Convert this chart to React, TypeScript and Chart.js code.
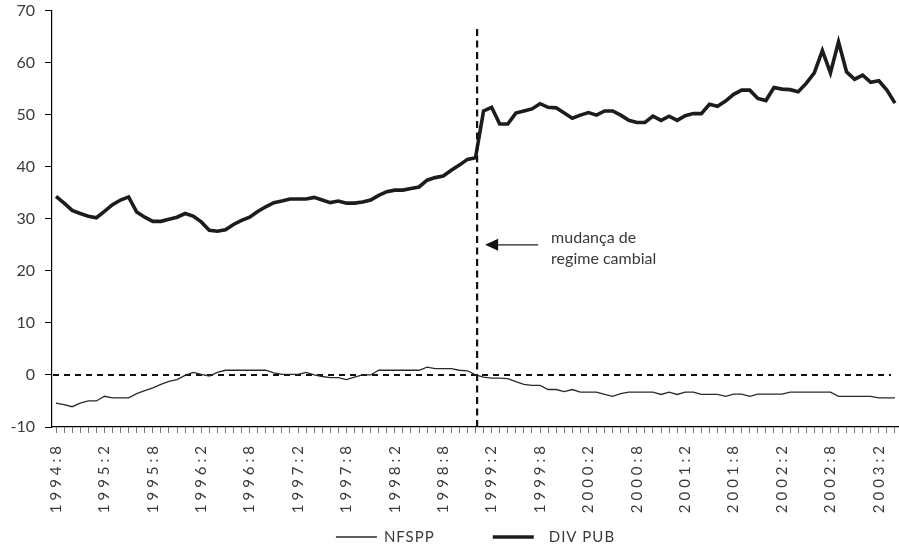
import React, { useEffect, useRef } from 'react';
import { Chart, registerables } from 'chart.js';

Chart.register(...registerables);

// Monthly categories 1994:8 .. 2003:4
const START_YEAR = 1994;
const START_MONTH = 8;
const N_MONTHS = 105;
const CATEGORIES: string[] = [];
for (let k = 0; k < N_MONTHS; k++) {
  const m = START_MONTH - 1 + k;
  CATEGORIES.push(`${START_YEAR + Math.floor(m / 12)}:${(m % 12) + 1}`);
}

// Tick labels shown every 6 months (months 2 and 8)
const SHOWN_MONTHS = ['2', '8'];

const Y_MIN = -10;
const Y_MAX = 70;
const Y_STEP = 10;

const NFSPP = [
  -5.4, -5.7, -6.1, -5.4, -5.0, -5.0, -4.1, -4.4, -4.4, -4.4,
  -3.6, -3.0, -2.5, -1.8, -1.25, -0.9, -0.1, 0.5, 0.1, -0.2,
  0.5, 0.9, 0.9, 0.9, 0.9, 0.9, 0.9, 0.4, 0.1, 0.1,
  0.1, 0.5, 0.0, -0.3, -0.5, -0.5, -0.9, -0.4, 0.0, 0.0,
  0.9, 0.9, 0.9, 0.9, 0.9, 0.9, 1.5, 1.2, 1.2, 1.2,
  0.9, 0.8, 0.0, -0.4, -0.6, -0.6, -0.7, -1.3, -1.8, -2.0,
  -2.0, -2.8, -2.8, -3.2, -2.8, -3.3, -3.3, -3.3, -3.75, -4.1,
  -3.6, -3.3, -3.3, -3.3, -3.3, -3.75, -3.3, -3.75, -3.3, -3.3,
  -3.75, -3.75, -3.75, -4.1, -3.7, -3.7, -4.1, -3.7, -3.7, -3.7,
  -3.7, -3.3, -3.3, -3.3, -3.3, -3.3, -3.3, -4.1, -4.1, -4.1,
  -4.1, -4.1, -4.4, -4.4, -4.4,
];

const DIV_PUB = [
  34.3, 33.0, 31.6, 31.0, 30.5, 30.2, 31.4, 32.7, 33.6, 34.2,
  31.3, 30.3, 29.5, 29.5, 29.9, 30.3, 31.0, 30.5, 29.4, 27.8,
  27.6, 27.9, 28.9, 29.7, 30.3, 31.4, 32.3, 33.1, 33.4, 33.8,
  33.8, 33.8, 34.1, 33.6, 33.1, 33.4, 33.0, 33.0, 33.2, 33.6,
  34.5, 35.2, 35.5, 35.5, 35.8, 36.1, 37.4, 37.9, 38.2, 39.3,
  40.3, 41.4, 41.7, 50.7, 51.4, 48.2, 48.2, 50.3, 50.7, 51.1,
  52.1, 51.4, 51.3, 50.3, 49.3, 49.9, 50.4, 49.9, 50.7, 50.7,
  49.9, 48.9, 48.5, 48.5, 49.7, 48.9, 49.7, 48.9, 49.8, 50.2,
  50.2, 52.0, 51.6, 52.6, 53.9, 54.7, 54.7, 53.1, 52.7, 55.2,
  54.9, 54.8, 54.4, 56.0, 58.0, 62.3, 58.0, 64.0, 58.2, 56.8,
  57.6, 56.2, 56.5, 54.7, 52.2,
];

const SERIES_LABELS = ['NFSPP', 'DIV PUB'];

// Annotation: regime change between 1998:12 and 1999:1
const BREAK_INDEX = 52;
const BREAK_FRAC = 0.2;
const BREAK_TOP_VALUE = 66.8;
const ARROW_VALUE = 25;
const ANNOT_LINES = ['mudança de', 'regime cambial'];

const FONT = 'Lato, "Open Sans", "DejaVu Sans", sans-serif';
const TEXT_COLOR = '#3a3a3a';

const overlayPlugin = {
  id: 'overlay',
  beforeDraw(chart: any) {
    const s: any = chart.scales.x;
    if (s && !s.__patched) {
      const orig = s.drawLabels.bind(s);
      s.drawLabels = (area: any) => {
        const ctx: any = chart.ctx;
        ctx.save();
        ctx.letterSpacing = '4px';
        orig(area);
        ctx.restore();
      };
      s.__patched = true;
    }
  },
  beforeDatasetsDraw(chart: any) {
    const ctx = chart.ctx;
    const area = chart.chartArea;
    const y0 = chart.scales.y.getPixelForValue(0);
    ctx.save();
    ctx.strokeStyle = '#111';
    ctx.lineWidth = 2;
    ctx.setLineDash([6, 5]);
    ctx.beginPath();
    ctx.moveTo(area.left + 1, y0);
    ctx.lineTo(area.right - 8, y0);
    ctx.stroke();
    ctx.restore();
  },
  afterDatasetsDraw(chart: any) {
    const ctx = chart.ctx;
    const area = chart.chartArea;
    const xs = chart.scales.x;
    const ys = chart.scales.y;
    const p0 = xs.getPixelForValue(BREAK_INDEX);
    const p1 = xs.getPixelForValue(BREAK_INDEX + 1);
    const bx = p0 + (p1 - p0) * BREAK_FRAC;
    ctx.save();
    ctx.strokeStyle = '#111';
    ctx.lineWidth = 2.2;
    ctx.setLineDash([7, 4.5]);
    ctx.beginPath();
    ctx.moveTo(bx, area.bottom);
    ctx.lineTo(bx, ys.getPixelForValue(BREAK_TOP_VALUE));
    ctx.stroke();
    ctx.setLineDash([]);

    // arrow
    const ay = ys.getPixelForValue(ARROW_VALUE);
    const tip = bx + 8;
    const tail = bx + 61;
    ctx.lineWidth = 1.3;
    ctx.strokeStyle = '#222';
    ctx.beginPath();
    ctx.moveTo(tail, ay);
    ctx.lineTo(tip + 10, ay);
    ctx.stroke();
    ctx.fillStyle = '#111';
    ctx.beginPath();
    ctx.moveTo(tip, ay);
    ctx.lineTo(tip + 13, ay - 6);
    ctx.lineTo(tip + 13, ay + 6);
    ctx.closePath();
    ctx.fill();

    ctx.fillStyle = TEXT_COLOR;
    ctx.font = `16px ${FONT}`;
    ctx.textAlign = 'left';
    ctx.textBaseline = 'middle';
    ctx.fillText(ANNOT_LINES[0], tail + 13, ay - 7);
    ctx.fillText(ANNOT_LINES[1], tail + 13, ay + 14);
    ctx.restore();
  },
  afterDraw(chart: any) {
    const ctx = chart.ctx;
    const area = chart.chartArea;
    const ds = chart.data.datasets;
    const cy = chart.height - 10;
    ctx.save();
    ctx.font = `15px ${FONT}`;
    (ctx as any).letterSpacing = '1px';
    const lineLen = 41;
    const gaps = [7, 15];
    const between = 58;
    const w0 = ctx.measureText(ds[0].label).width;
    const w1 = ctx.measureText(ds[1].label).width;
    const total = lineLen + gaps[0] + w0 + between + lineLen + gaps[1] + w1;
    let x = (area.left + area.right) / 2 - total / 2;
    ctx.textBaseline = 'middle';
    ctx.textAlign = 'left';
    [0, 1].forEach((i) => {
      ctx.strokeStyle = ds[i].borderColor;
      ctx.lineWidth = ds[i].borderWidth;
      ctx.beginPath();
      ctx.moveTo(x, cy);
      ctx.lineTo(x + lineLen, cy);
      ctx.stroke();
      x += lineLen + gaps[i];
      ctx.fillStyle = TEXT_COLOR;
      ctx.fillText(ds[i].label, x, cy);
      x += (i === 0 ? w0 : w1) + between;
    });
    ctx.restore();
  },
};

export default function App() {
  const ref = useRef<HTMLCanvasElement>(null);
  useEffect(() => {
    document.body.style.margin = '0';
    const canvas = ref.current!;
    const chart = new Chart(canvas, {
      type: 'line',
      data: {
        labels: CATEGORIES,
        datasets: [
          {
            label: SERIES_LABELS[0],
            data: NFSPP,
            borderColor: '#2a2a2a',
            borderWidth: 1.3,
            pointRadius: 0,
            tension: 0,
            fill: false,
          },
          {
            label: SERIES_LABELS[1],
            data: DIV_PUB,
            borderColor: '#1c1c1c',
            borderWidth: 3.6,
            pointRadius: 0,
            tension: 0,
            fill: false,
            borderJoinStyle: 'miter',
          },
        ],
      },
      options: {
        responsive: false,
        animation: false,
        events: [],
        layout: { padding: { top: 0, right: 0, bottom: 0, left: 0 } },
        plugins: {
          legend: { display: false },
          tooltip: { enabled: false },
        },
        scales: {
          x: {
            offset: true,
            grid: {
              display: true,
              drawOnChartArea: false,
              drawTicks: true,
              tickLength: 6,
              color: '#777',
              lineWidth: 1,
            },
            border: { color: '#000', width: 1.2 },
            ticks: {
              autoSkip: false,
              maxRotation: 90,
              minRotation: 90,
              padding: 9,
              color: TEXT_COLOR,
              font: { family: FONT, size: 15 },
              callback(this: any, v: any) {
                const lab = this.getLabelForValue(v) as string;
                const mo = lab.split(':')[1];
                return SHOWN_MONTHS.includes(mo) ? lab : '';
              },
            },
            afterFit(s: any) {
              s.height = 120;
              s.paddingLeft = 0;
              s.paddingRight = 0;
            },
          },
          y: {
            min: Y_MIN,
            max: Y_MAX,
            ticks: {
              stepSize: Y_STEP,
              padding: 10,
              color: TEXT_COLOR,
              font: { family: FONT, size: 16 },
            },
            grid: {
              drawOnChartArea: false,
              drawTicks: true,
              tickLength: 7,
              color: '#000',
            },
            border: { color: '#000', width: 1.2 },
            afterFit(s: any) {
              s.width = 52;
              s.paddingTop = 10.5;
              s.paddingBottom = 0;
            },
          },
        },
      },
      plugins: [overlayPlugin],
    } as any);
    return () => chart.destroy();
  }, []);
  return <canvas ref={ref} width={899} height={547} style={{ display: 'block' }} />;
}
